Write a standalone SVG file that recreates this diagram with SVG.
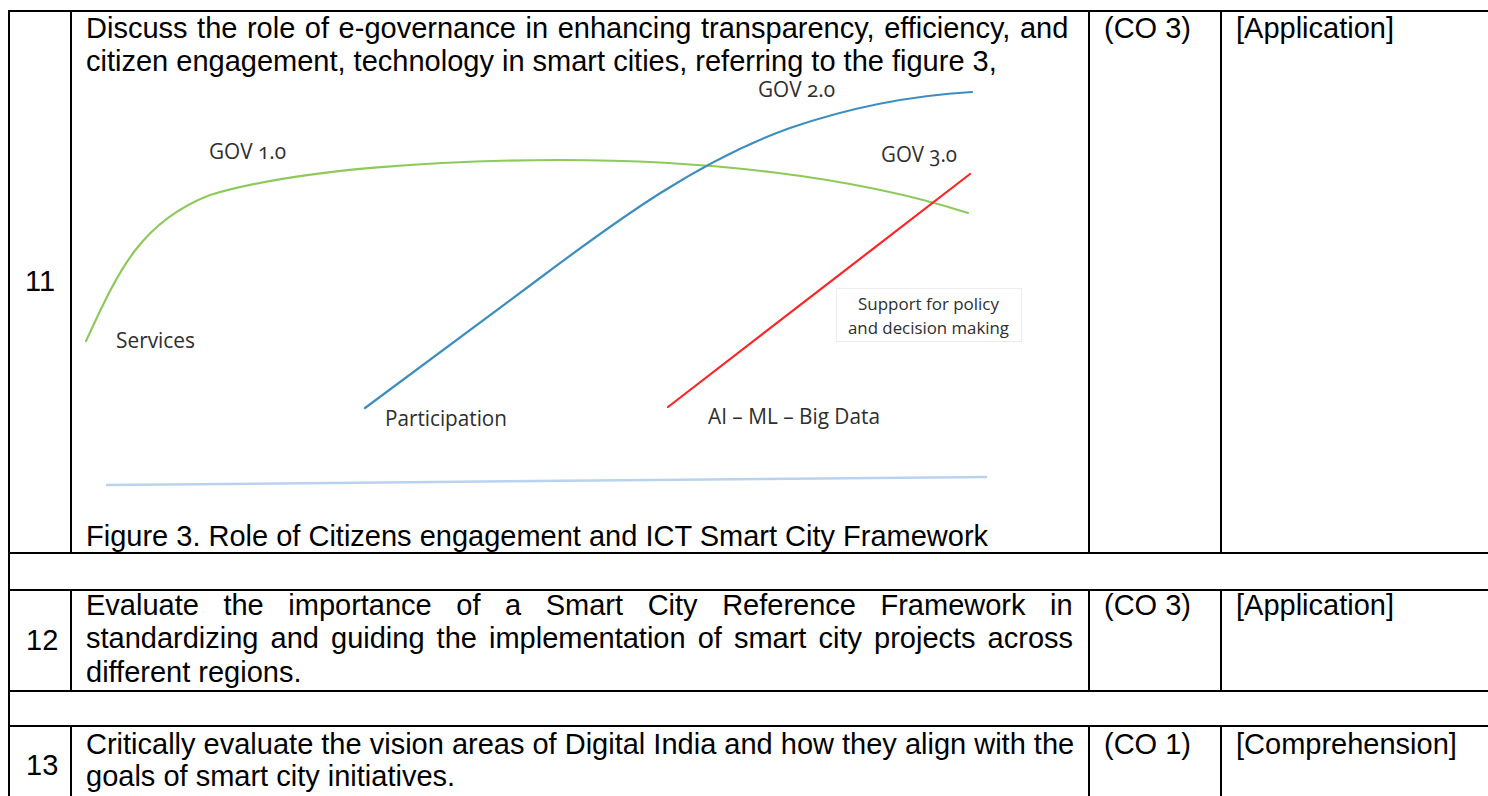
<svg xmlns="http://www.w3.org/2000/svg" width="1488" height="796" viewBox="0 0 1488 796">
<style>
.t{font-family:"Liberation Sans",Arial,sans-serif;font-size:29px;fill:#000}
.g{stroke:#000;stroke-width:2;fill:none}
.lb{font-family:"Open Sans","Noto Sans",sans-serif;font-size:22px;fill:#2e2e2e;font-variant-numeric:oldstyle-nums}
.sm{font-family:"Open Sans","Noto Sans",sans-serif;font-size:17px;fill:#2e2e2e}
.c{fill:none;stroke-width:2.2;stroke-linecap:round}
</style>
<rect width="1488" height="796" fill="#fff"/>
<g id="table-grid" class="g">
<line x1="9" y1="10" x2="9" y2="796"/>
<line x1="8" y1="11" x2="1488" y2="11"/>
<line x1="8" y1="553" x2="1488" y2="553"/>
<line x1="8" y1="590" x2="1488" y2="590"/>
<line x1="8" y1="691" x2="1488" y2="691"/>
<line x1="8" y1="726" x2="1488" y2="726"/>
<line x1="71" y1="10" x2="71" y2="553"/>
<line x1="71" y1="590" x2="71" y2="691"/>
<line x1="71" y1="726" x2="71" y2="796"/>
<line x1="1089" y1="10" x2="1089" y2="553"/>
<line x1="1089" y1="590" x2="1089" y2="691"/>
<line x1="1089" y1="726" x2="1089" y2="796"/>
<line x1="1221" y1="10" x2="1221" y2="553"/>
<line x1="1221" y1="590" x2="1221" y2="691"/>
<line x1="1221" y1="726" x2="1221" y2="796"/>
</g>
<g id="row-11">
<text class="t" x="25" y="291">11</text>
<text class="t" x="86" y="38" style="word-spacing:1.5px">Discuss the role of e-governance in enhancing transparency, efficiency, and</text>
<text class="t" x="86" y="71">citizen engagement, technology in smart cities, referring to the figure 3,</text>
<text class="t" x="86" y="546">Figure 3. Role of Citizens engagement and ICT Smart City Framework</text>
<text class="t" x="1104" y="38">(CO 3)</text>
<text class="t" x="1236" y="38">[Application]</text>
</g>
<g id="figure">
<g id="curves">
<path id="gov1-curve" class="c" stroke="#8dc95b" d="M86,341 C118,272 140,222 210,195 C300,168 450,160 560,160 C700,160 850,175 968,213"/>
<path id="gov2-curve" class="c" stroke="#3d8ec0" d="M365,408 L540,278 C620,218 700,160 790,128 C860,104 920,95 972,92"/>
<path id="gov3-curve" class="c" stroke="#ff2424" d="M668,407 L970,174"/>
<path id="axis" fill="none" stroke="#b9d3ef" stroke-width="2.5" d="M106,485 L987,477"/>
</g>
<g id="gov1"><text class="lb" x="209" y="159" textLength="77" lengthAdjust="spacingAndGlyphs">GOV 1.0</text></g>
<g id="gov2"><text class="lb" x="758" y="97" textLength="77" lengthAdjust="spacingAndGlyphs">GOV 2.0</text></g>
<g id="gov3"><text class="lb" x="881" y="162" textLength="76" lengthAdjust="spacingAndGlyphs">GOV 3.0</text></g>
<g id="services"><text class="lb" x="116" y="348" textLength="79" lengthAdjust="spacingAndGlyphs">Services</text></g>
<g id="participation"><text class="lb" x="385" y="426" textLength="122" lengthAdjust="spacingAndGlyphs">Participation</text></g>
<g id="ai-ml"><text class="lb" x="708" y="424" textLength="172" lengthAdjust="spacingAndGlyphs">AI – ML – Big Data</text></g>
<g id="policy-box">
<rect x="836.5" y="288.5" width="185" height="53" fill="#fff" stroke="#ececec" stroke-width="1"/>
<text class="sm" x="858" y="310" textLength="141" lengthAdjust="spacingAndGlyphs">Support for policy</text>
<text class="sm" x="848" y="334" textLength="161" lengthAdjust="spacingAndGlyphs">and decision making</text>
</g>
</g>
<g id="row-12">
<text class="t" x="26" y="650">12</text>
<text class="t" x="86" y="615" style="word-spacing:16.5px">Evaluate the importance of a Smart City Reference Framework in</text>
<text class="t" x="86" y="648" style="word-spacing:4px">standardizing and guiding the implementation of smart city projects across</text>
<text class="t" x="86" y="682">different regions.</text>
<text class="t" x="1104" y="615">(CO 3)</text>
<text class="t" x="1236" y="615">[Application]</text>
</g>
<g id="row-13">
<text class="t" x="26" y="775">13</text>
<text class="t" x="86" y="754">Critically evaluate the vision areas of Digital India and how they align with the</text>
<text class="t" x="86" y="786">goals of smart city initiatives.</text>
<text class="t" x="1104" y="754">(CO 1)</text>
<text class="t" x="1236" y="754">[Comprehension]</text>
</g>
</svg>
